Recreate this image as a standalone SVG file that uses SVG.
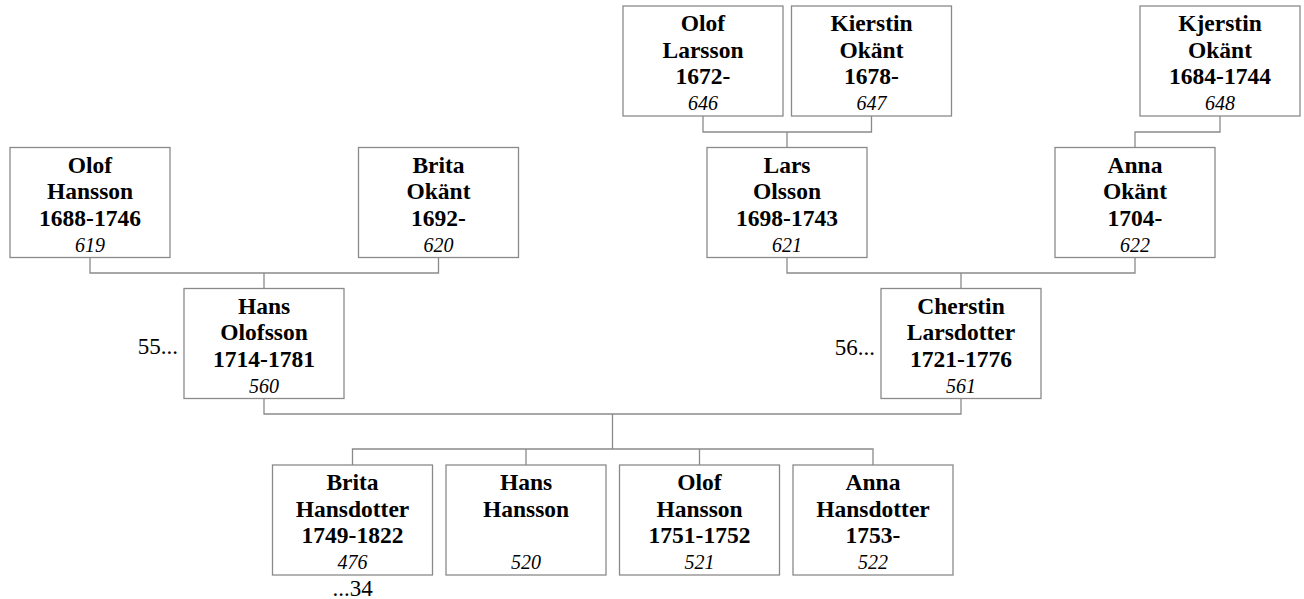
<svg xmlns="http://www.w3.org/2000/svg" width="1304" height="599" viewBox="0 0 1304 599">
<style>
.box{fill:#fff;stroke:#8a8a8a;stroke-width:1.3}
.con{fill:none;stroke:#8a8a8a;stroke-width:1.3}
.n{font-family:"Liberation Serif","Times New Roman",serif;font-weight:bold;font-size:23.5px;fill:#000;text-anchor:middle}
.id{font-family:"Liberation Serif","Times New Roman",serif;font-style:italic;font-size:20px;fill:#000;text-anchor:middle}
.ref{font-family:"Liberation Serif","Times New Roman",serif;font-size:23px;fill:#000}
</style>
<rect width="1304" height="599" fill="#fff"/>
<g id="connectors">
<path class="con" d="M703,116 V132 H871.5 V116 M787,132 V147.5"/>
<path class="con" d="M1220,116 V132 H1135 V147.5"/>
<path class="con" d="M90,257.5 V273 H438.5 V257.5 M264,273 V288.5"/>
<path class="con" d="M787,257.5 V273 H1135 V257.5 M961,273 V288.5"/>
<path class="con" d="M264,398.5 V414 H961 V398.5 M612.5,414 V449"/>
<path class="con" d="M352.5,465 V449 H873 V465 M526,449 V465 M699.5,449 V465"/>
</g>
<g id="p646"><rect class="box" x="623" y="6" width="160" height="110"/>
<text class="n" x="703" y="31">Olof</text><text class="n" x="703" y="57.5">Larsson</text><text class="n" x="703" y="84">1672-</text><text class="id" x="703" y="110">646</text></g>
<g id="p647"><rect class="box" x="791.5" y="6" width="160" height="110"/>
<text class="n" x="871.5" y="31">Kierstin</text><text class="n" x="871.5" y="57.5">Okänt</text><text class="n" x="871.5" y="84">1678-</text><text class="id" x="871.5" y="110">647</text></g>
<g id="p648"><rect class="box" x="1140" y="6" width="160" height="110"/>
<text class="n" x="1220" y="31">Kjerstin</text><text class="n" x="1220" y="57.5">Okänt</text><text class="n" x="1220" y="84">1684-1744</text><text class="id" x="1220" y="110">648</text></g>
<g id="p619"><rect class="box" x="10" y="147.5" width="160" height="110"/>
<text class="n" x="90" y="172.5">Olof</text><text class="n" x="90" y="199">Hansson</text><text class="n" x="90" y="225.5">1688-1746</text><text class="id" x="90" y="251.5">619</text></g>
<g id="p620"><rect class="box" x="358.5" y="147.5" width="160" height="110"/>
<text class="n" x="438.5" y="172.5">Brita</text><text class="n" x="438.5" y="199">Okänt</text><text class="n" x="438.5" y="225.5">1692-</text><text class="id" x="438.5" y="251.5">620</text></g>
<g id="p621"><rect class="box" x="707" y="147.5" width="160" height="110"/>
<text class="n" x="787" y="172.5">Lars</text><text class="n" x="787" y="199">Olsson</text><text class="n" x="787" y="225.5">1698-1743</text><text class="id" x="787" y="251.5">621</text></g>
<g id="p622"><rect class="box" x="1055" y="147.5" width="160" height="110"/>
<text class="n" x="1135" y="172.5">Anna</text><text class="n" x="1135" y="199">Okänt</text><text class="n" x="1135" y="225.5">1704-</text><text class="id" x="1135" y="251.5">622</text></g>
<g id="p560"><rect class="box" x="184" y="288.5" width="160" height="110"/>
<text class="n" x="264" y="313.5">Hans</text><text class="n" x="264" y="340">Olofsson</text><text class="n" x="264" y="366.5">1714-1781</text><text class="id" x="264" y="392.5">560</text>
<text class="ref" x="178" y="354" text-anchor="end">55...</text></g>
<g id="p561"><rect class="box" x="881" y="288.5" width="160" height="110"/>
<text class="n" x="961" y="313.5">Cherstin</text><text class="n" x="961" y="340">Larsdotter</text><text class="n" x="961" y="366.5">1721-1776</text><text class="id" x="961" y="392.5">561</text>
<text class="ref" x="875" y="355" text-anchor="end">56...</text></g>
<g id="p476"><rect class="box" x="272.5" y="465" width="160" height="110"/>
<text class="n" x="352.5" y="490">Brita</text><text class="n" x="352.5" y="516.5">Hansdotter</text><text class="n" x="352.5" y="543">1749-1822</text><text class="id" x="352.5" y="569">476</text>
<text class="ref" x="352.5" y="596" text-anchor="middle">...34</text></g>
<g id="p520"><rect class="box" x="446" y="465" width="160" height="110"/>
<text class="n" x="526" y="490">Hans</text><text class="n" x="526" y="516.5">Hansson</text><text class="id" x="526" y="569">520</text></g>
<g id="p521"><rect class="box" x="619.5" y="465" width="160" height="110"/>
<text class="n" x="699.5" y="490">Olof</text><text class="n" x="699.5" y="516.5">Hansson</text><text class="n" x="699.5" y="543">1751-1752</text><text class="id" x="699.5" y="569">521</text></g>
<g id="p522"><rect class="box" x="793" y="465" width="160" height="110"/>
<text class="n" x="873" y="490">Anna</text><text class="n" x="873" y="516.5">Hansdotter</text><text class="n" x="873" y="543">1753-</text><text class="id" x="873" y="569">522</text></g>
</svg>
